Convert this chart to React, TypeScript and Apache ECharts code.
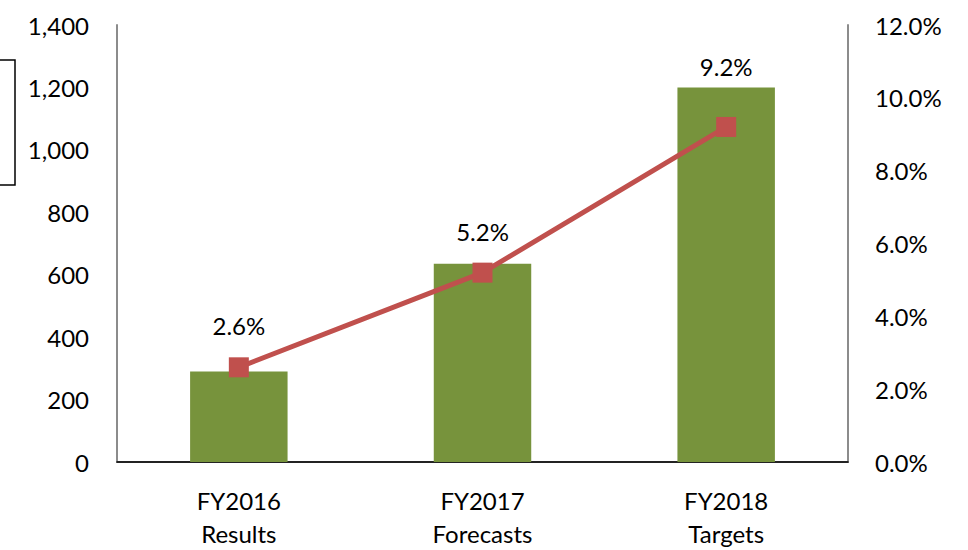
import React, { useEffect, useRef } from "react";
import * as echarts from "echarts";

const categories = ["FY2016\nResults", "FY2017\nForecasts", "FY2018\nTargets"];
const barValues = [290, 635, 1200];
const rateValues = [2.6, 5.2, 9.2];

export default function App() {
  const ref = useRef<HTMLDivElement>(null);
  useEffect(() => {
    if (!ref.current) return;
    const chart = echarts.init(ref.current, undefined, { renderer: "svg" });
    const font = "Lato, 'Open Sans', sans-serif";
    const labelDistances = [20, 19, 38];
    chart.setOption({
      animation: false,
      textStyle: { fontFamily: font },
      grid: { left: 117, right: 120, top: 25, bottom: 86 },
      graphic: [
        {
          type: "rect",
          shape: { x: -20, y: 60, width: 35, height: 125 },
          style: { fill: "none", stroke: "#000", lineWidth: 1.5 },
        },
      ],
      xAxis: [
        {
          type: "category",
          data: categories,
          axisLine: { lineStyle: { color: "#8c8c8c", width: 2 } },
          axisTick: { show: false },
          axisLabel: { color: "#000", fontSize: 24, fontFamily: font, margin: 22, lineHeight: 33 },
        },
        {
          type: "category",
          data: categories,
          position: "top",
          axisLine: { lineStyle: { color: "#000", width: 1.5 } },
          axisTick: { show: false },
          axisLabel: { show: false },
        },
      ],
      yAxis: [
        {
          type: "value",
          min: 0,
          max: 1400,
          interval: 200,
          axisLine: { show: true, lineStyle: { color: "#8c8c8c", width: 2 } },
          axisTick: { show: false },
          splitLine: { show: false },
          axisLabel: {
            color: "#000",
            fontSize: 24,
            fontFamily: font,
            margin: 28,
            formatter: (v: number) => v.toLocaleString("en-US"),
          },
        },
        {
          type: "value",
          min: 0,
          max: 12,
          interval: 2,
          position: "right",
          axisLine: { show: true, lineStyle: { color: "#8c8c8c", width: 2 } },
          axisTick: { show: false },
          splitLine: { show: false },
          axisLabel: {
            color: "#000",
            fontSize: 24,
            fontFamily: font,
            margin: 27,
            formatter: (v: number) => v.toFixed(1) + "%",
          },
        },
      ],
      series: [
        {
          type: "bar",
          data: barValues,
          barWidth: "40%",
          itemStyle: { color: "#77933C" },
        },
        {
          type: "line",
          yAxisIndex: 1,
          data: rateValues.map((v, i) => ({
            value: v,
            label: { distance: labelDistances[i] },
          })),
          symbol: "rect",
          symbolSize: 20,
          lineStyle: { color: "#C0504D", width: 5 },
          itemStyle: { color: "#C0504D" },
          label: {
            show: true,
            position: "top",
            color: "#000",
            fontSize: 24,
            fontFamily: font,
            formatter: (p: any) => Number(p.value).toFixed(1) + "%",
          },
        },
      ],
    });
    return () => chart.dispose();
  }, []);
  return (
    <div
      ref={ref}
      style={{ position: "fixed", left: 0, top: 0, width: 968, height: 550, background: "#fff" }}
    />
  );
}
